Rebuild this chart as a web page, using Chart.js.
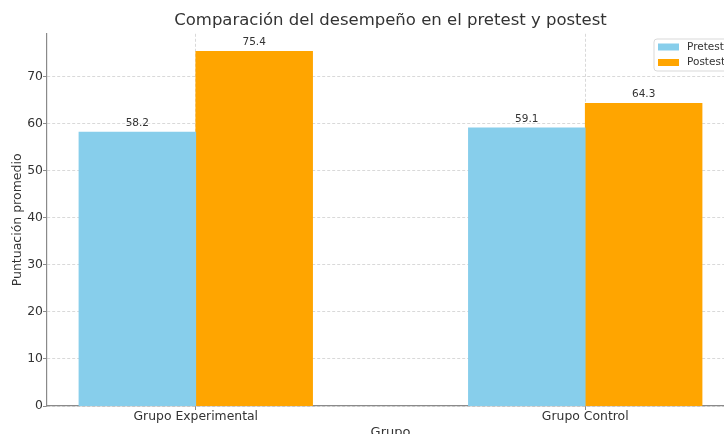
<!DOCTYPE html>
<html>
<head>
<meta charset="utf-8">
<script src="https://cdn.jsdelivr.net/npm/chart.js@4.4.0/dist/chart.umd.min.js"></script>
<style>
  html, body { margin: 0; padding: 0; background: #fff; overflow: hidden; }
  #wrap { width: 760px; height: 444px; }
</style>
</head>
<body>
<div id="wrap"><canvas id="chart"></canvas></div>
<script>
const categories = ["Grupo Experimental", "Grupo Control"];
const seriesNames = ["Pretest", "Postest"];
const pretest = [58.2, 59.1];
const postest = [75.4, 64.3];
const yTicks = [0, 10, 20, 30, 40, 50, 60, 70];

const FONT = "'DejaVu Sans', sans-serif";
const TEXT = "#333333";
const SPINE = "#8a8a8a";
const GRID = "#c8c8c8";
const BAR_OFFSET = 0.15;

function points(values, shift) {
  return values.map((v, i) => ({ x: i + shift, y: v }));
}

const valueLabels = {
  id: "valueLabels",
  afterDatasetsDraw(chart) {
    const ctx = chart.ctx;
    ctx.save();
    ctx.font = "10.5px " + FONT;
    ctx.fillStyle = TEXT;
    ctx.textAlign = "center";
    ctx.textBaseline = "middle";
    chart.data.datasets.forEach((ds, di) => {
      chart.getDatasetMeta(di).data.forEach((bar, i) => {
        ctx.fillText(ds.data[i].y.toFixed(1), bar.x, bar.y - 9);
      });
    });
    ctx.restore();
  }
};

const boxLegend = {
  id: "boxLegend",
  afterDraw(chart) {
    const ctx = chart.ctx;
    const right = chart.chartArea.right - 5;
    const left = 654, top = 39, bottom = 71;
    ctx.save();
    ctx.beginPath();
    ctx.roundRect(left, top, right - left, bottom - top, 3);
    ctx.fillStyle = "rgba(255,255,255,0.8)";
    ctx.fill();
    ctx.strokeStyle = "#d9d9d9";
    ctx.lineWidth = 1;
    ctx.stroke();
    ctx.font = "10.5px " + FONT;
    ctx.textBaseline = "middle";
    ctx.textAlign = "left";
    chart.data.datasets.forEach((ds, i) => {
      const y = 47 + i * 15.5;
      ctx.fillStyle = ds.backgroundColor;
      ctx.fillRect(658, y - 3.5, 21, 7);
      ctx.fillStyle = TEXT;
      ctx.fillText(ds.label, 687, y);
    });
    ctx.restore();
  }
};

new Chart(document.getElementById("chart"), {
  type: "bar",
  data: {
    datasets: [
      { label: seriesNames[0], data: points(pretest, -BAR_OFFSET), backgroundColor: "#87CEEB" },
      { label: seriesNames[1], data: points(postest, BAR_OFFSET), backgroundColor: "#FFA500" }
    ]
  },
  options: {
    responsive: true,
    maintainAspectRatio: false,
    animation: false,
    grouped: false,
    barPercentage: 1,
    categoryPercentage: 1,
    layout: { padding: { left: 0, right: 26, top: 0, bottom: 0 } },
    plugins: {
      legend: { display: false },
      tooltip: { enabled: false },
      title: {
        display: true,
        text: "Comparación del desempeño en el pretest y postest",
        fullSize: false,
        color: TEXT,
        font: { family: FONT, size: 16.5, weight: "normal" },
        padding: { top: 11, bottom: 3 }
      }
    },
    scales: {
      x: {
        type: "linear",
        offset: false,
        min: -0.382,
        max: 1.382,
        afterBuildTicks: s => { s.ticks = categories.map((c, i) => ({ value: i })); },
        afterFit: s => { s.height = 38; },
        ticks: {
          callback: v => categories[v],
          color: TEXT,
          font: { family: FONT, size: 12.4 },
          padding: -1,
          maxRotation: 0,
          autoSkip: false
        },
        grid: { offset: false, color: GRID, lineWidth: 0.7, tickColor: SPINE, tickLength: 4, tickWidth: 1 },
        border: { color: SPINE, width: 1.2, dash: [3, 2] },
        title: {
          display: true,
          text: "Grupo",
          color: TEXT,
          font: { family: FONT, size: 13 },
          padding: { top: 0, bottom: 4 }
        }
      },
      y: {
        min: 0,
        max: 79.1,
        afterBuildTicks: s => { s.ticks = yTicks.map(v => ({ value: v })); },
        afterFit: s => { s.width = 47; },
        ticks: {
          color: TEXT,
          font: { family: FONT, size: 12.4 },
          padding: 0
        },
        grid: { color: GRID, lineWidth: 0.7, tickColor: SPINE, tickLength: 4, tickWidth: 1 },
        border: { color: SPINE, width: 1.2, dash: [3, 2] },
        title: {
          display: true,
          text: "Puntuación promedio",
          color: TEXT,
          font: { family: FONT, size: 12.5 },
          padding: { top: 10, bottom: 0 }
        }
      }
    }
  },
  plugins: [valueLabels, boxLegend]
});
</script>
</body>
</html>
